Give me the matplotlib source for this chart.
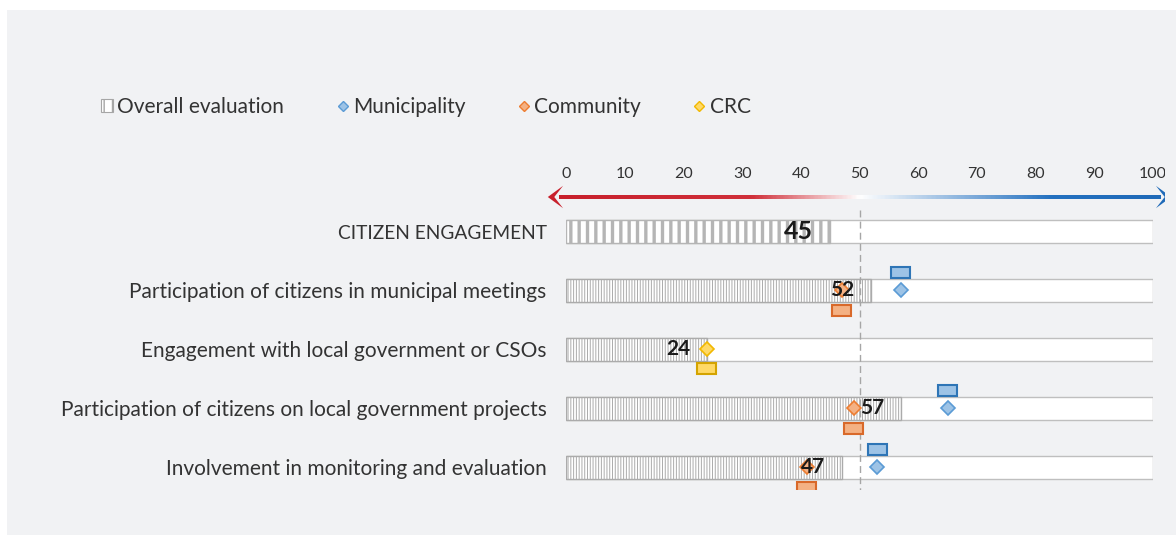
import numpy as np
import matplotlib
matplotlib.use("Agg")
import matplotlib.pyplot as plt
from matplotlib.colors import LinearSegmentedColormap
from matplotlib.lines import Line2D
from matplotlib.patches import Patch, Polygon, Rectangle

plt.rcParams['font.family'] = ['Lato', 'DejaVu Sans']

categories = [
    "CITIZEN ENGAGEMENT",
    "Participation of citizens in municipal meetings",
    "Engagement with local government or CSOs",
    "Participation of citizens on local government projects",
    "Involvement in monitoring and evaluation",
]
overall = [45, 52, 24, 57, 47]
municipality = [None, 57, None, 65, 53]
community = [None, 47, None, 49, 41]
crc = [None, None, 24, None, None]
ticks = list(range(0, 101, 10))

BG = '#f1f2f4'
TXT = '#333333'
BLUE_F, BLUE_E, BLUE_R = '#9dc3e6', '#5b9bd5', '#2e75b6'
ORNG_F, ORNG_E, ORNG_R = '#f4b183', '#ed7d31', '#d9692a'
YELL_F, YELL_E, YELL_R = '#ffd966', '#f2b800', '#d4a400'

W, H = 1176, 535
fig = plt.figure(figsize=(W / 100, H / 100), dpi=100, facecolor='white')
fig.add_artist(Rectangle((7 / W, 0), 1, 1 - 10 / H, transform=fig.transFigure,
                         facecolor=BG, edgecolor='none', zorder=-5))

ax_l, ax_r, ax_t, ax_b = 566, 1153, 185, 490
ax = fig.add_axes([ax_l / W, 1 - ax_b / H, (ax_r - ax_l) / W, (ax_b - ax_t) / H])
ax.set_facecolor('none')

row0, step = 231.5, 58.9
ylim = ((ax_b - row0) / step, (ax_t - row0) / step)
rows = np.arange(len(categories))

# white track behind each bar
ax.barh(rows, [100] * len(rows), height=0.39, color='white',
        edgecolor='#bfbfbf', linewidth=1, zorder=1)

bars = ax.barh(rows, overall, height=0.39, color='white', edgecolor='#ababab',
               linewidth=1, zorder=2)
for i, b in enumerate(bars):
    if i == 0:
        b.set_hatch('||')
        b.set_edgecolor('#b5b5b5')
        if hasattr(b, 'set_hatch_linewidth'):
            b.set_hatch_linewidth(2.4)
    else:
        b.set_hatch('||||||')
        if hasattr(b, 'set_hatch_linewidth'):
            b.set_hatch_linewidth(0.7)

for i, v in enumerate(overall):
    ax.annotate(str(v), (v, i), xytext=(-12, 0), textcoords='offset points',
                ha='right', va='center', fontweight='bold',
                fontsize=18 if i == 0 else 15, color='#1a1a1a', zorder=6)

# reference line at the midpoint
ax.plot([50, 50], [(210 - row0) / step, ylim[0]], color='#a6a6a6', lw=1,
        dashes=(5, 3), zorder=3)

rect_w, rect_h = 3.24, 0.187


def draw_group(values, fill, edge, redge, offset):
    idx = [i for i, v in enumerate(values) if v is not None]
    xs = [values[i] for i in idx]
    ys = np.array(idx, dtype=float)
    ax.bar(xs, rect_h, width=rect_w, bottom=ys + offset - rect_h / 2,
           color=fill, edgecolor=redge, linewidth=1.5, zorder=4)
    ax.plot(xs, ys, linestyle='none', marker='D', markersize=7,
            markerfacecolor=fill, markeredgecolor=edge, markeredgewidth=1.2,
            zorder=5)


draw_group(municipality, BLUE_F, BLUE_E, BLUE_R, -0.297)
draw_group(community, ORNG_F, ORNG_E, ORNG_R, 0.34)
draw_group(crc, YELL_F, YELL_E, YELL_R, 0.33)

# red-white-blue scale arrow along the top
arr_y = (197 - row0) / step
cmap = LinearSegmentedColormap.from_list(
    'scale', [(0, '#c8202c'), (0.32, '#d0303a'), (0.5, '#ffffff'),
              (0.82, '#2471c0'), (1, '#1f6ab8')])
grad = np.linspace(0, 1, 400).reshape(1, -1)
ax.imshow(grad, cmap=cmap, aspect='auto', extent=(-1.2, 101.2, arr_y + 0.027, arr_y - 0.027),
          zorder=3, clip_on=False, interpolation='bilinear')
hl, hw, notch = 2.6, 0.19, 1.1
ax.add_patch(Polygon([(-3.1, arr_y), (-3.1 + hl, arr_y - hw), (-3.1 + notch, arr_y),
                      (-3.1 + hl, arr_y + hw)], closed=True, facecolor='#c8202c',
                     edgecolor='none', clip_on=False, zorder=3))
ax.add_patch(Polygon([(103.1, arr_y), (103.1 - hl, arr_y - hw), (103.1 - notch, arr_y),
                      (103.1 - hl, arr_y + hw)], closed=True, facecolor='#1f6ab8',
                     edgecolor='none', clip_on=False, zorder=3))

ax.set_xlim(0, 100)
ax.set_ylim(*ylim)
ax.xaxis.tick_top()
ax.set_xticks(ticks)
ax.set_xticklabels([str(t) for t in ticks], fontsize=11.5, color=TXT)
ax.set_yticks(rows)
ax.set_yticklabels(categories, fontsize=15, color=TXT)
ax.get_yticklabels()[0].set_fontsize(13.8)
ax.tick_params(axis='both', length=0)
ax.tick_params(axis='x', pad=3)
ax.tick_params(axis='y', pad=14)
for s in ax.spines.values():
    s.set_visible(False)

handles = [
    Patch(facecolor='white', edgecolor='#a6a6a6', hatch='||', linewidth=0.8),
    Line2D([], [], linestyle='none', marker='D', markersize=5.5,
           markerfacecolor=BLUE_F, markeredgecolor=BLUE_E),
    Line2D([], [], linestyle='none', marker='D', markersize=5.5,
           markerfacecolor=ORNG_F, markeredgecolor=ORNG_E),
    Line2D([], [], linestyle='none', marker='D', markersize=5.5,
           markerfacecolor=YELL_F, markeredgecolor=YELL_E),
]
fig.legend(handles, ["Overall evaluation", "Municipality", "Community", "CRC"],
           loc='center left', bbox_to_anchor=(82 / W, 1 - 107 / H), ncol=4,
           frameon=False, fontsize=15, handlelength=0.6, handleheight=0.6,
           handletextpad=0.2, columnspacing=2.5, labelcolor=TXT)

# the chart object is cropped a little before the right edge
fig.add_artist(Rectangle((1165 / W, 0), 1, 1 - 10 / H, transform=fig.transFigure,
                         facecolor=BG, edgecolor='none', zorder=10))

fig.savefig('out.png', dpi=100, facecolor='white')
